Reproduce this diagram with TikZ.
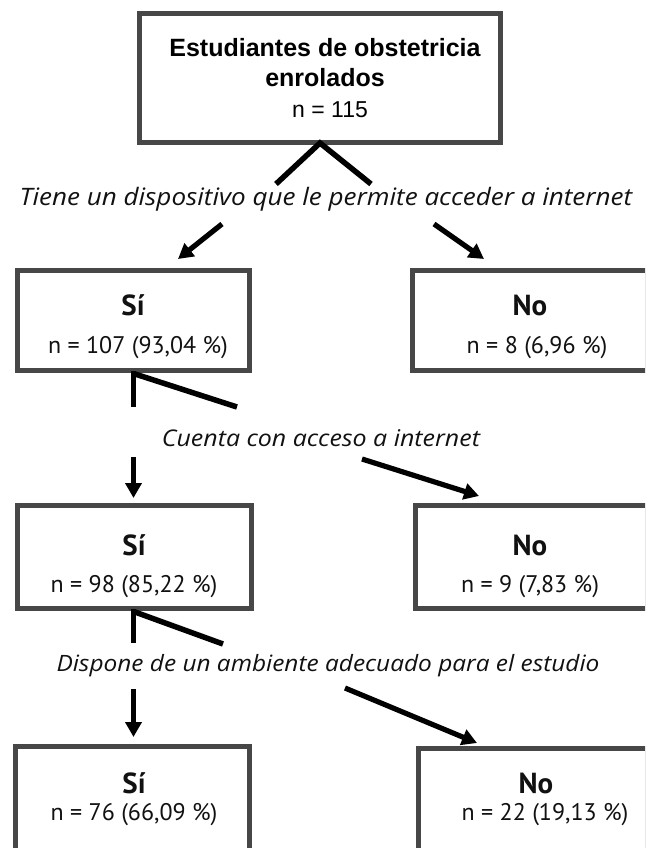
\documentclass[tikz,border=0pt]{standalone}
\usepackage{fontspec}
\setmainfont{PT Sans}
\newfontfamily\titlefont{Liberation Sans}
\newfontfamily\questfont{Open Sans}[FakeStretch=1.085]
\usetikzlibrary{arrows.meta}
\definecolor{boxgray}{HTML}{474747}
\definecolor{ink}{HTML}{111111}
\tikzset{
  box/.style={draw=boxgray, line width=5pt, inner sep=0pt, fill=white},
  lineto/.style={draw=black, line width=5.5pt},
  arr/.style={draw=black, line width=5.2pt, -{Triangle[length=15pt,width=16pt]}},
  yes/.style={font=\fontsize{29}{29}\selectfont\bfseries, text=ink, inner sep=0pt},
  cnt/.style={font=\fontsize{24}{24}\selectfont, text=ink, inner sep=0pt},
  quest/.style={font=\questfont\fontsize{#1}{#1}\selectfont\itshape, text=ink, inner sep=0pt},
  quest/.default=24,
  ttl/.style={font=\titlefont\fontsize{25}{25}\selectfont\bfseries, text=black, inner sep=0pt},
}
\begin{document}
\begin{tikzpicture}[x=1pt,y=-1pt]
\useasboundingbox (0,0) rectangle (645,848);
\clip (0,0) rectangle (645,848);
% top box
\node[box, minimum width=361pt, minimum height=129pt] (top) at (320,78) {};
\node[ttl] (t1) at (325,48) {Estudiantes de obstetricia};
\node[ttl] (t2) at (325,78) {enrolados};
\node[font=\titlefont\fontsize{23}{23}\selectfont, inner sep=0pt] (t3) at (330,110) {n = 115};
% question 1
\coordinate (v1a) at (320,143);
\coordinate (v1l) at (276,184);
\coordinate (v1r) at (371,184);
\draw[lineto] (v1l) -- (v1a) -- (v1r);
\node[quest] (q1) at (326,199) {Tiene un dispositivo que le permite acceder a internet};
\coordinate (a1l) at (222,224);
\coordinate (a1r) at (434,224);
% row 1
\node[box, minimum width=232pt, minimum height=100pt] (s1) at (133.5,320.5) {};
\node[box, minimum width=235pt, minimum height=100pt] (n1) at (530,320.5) {};
\node[yes] (s1a) at (133,305) {Sí};
\node[cnt] (s1b) at (138,348) {n = 107 (93,04 \%)};
\node[yes] (n1a) at (530,305) {No};
\node[cnt] (n1b) at (537,348) {n = 8 (6,96 \%)};
\coordinate (e1l) at (178,259);
\coordinate (e1r) at (484,259);
\draw[arr] (a1l) -- (e1l);
\draw[arr] (a1r) -- (e1r);
% question 2
\coordinate (b2a) at (133.5,371);
\coordinate (b2b) at (133.5,407);
\coordinate (b2c) at (135,374);
\coordinate (b2d) at (237,407);
\draw[lineto] (b2a) -- (b2b);
\draw[lineto] (b2c) -- (b2d);
\node[quest=23] (q2) at (321,438) {Cuenta con acceso a internet};
\coordinate (a2l) at (133.5,457);
\coordinate (a2r) at (362,459);
% row 2
\node[box, minimum width=234pt, minimum height=103pt] (s2) at (134.5,557) {};
\node[box, minimum width=232pt, minimum height=103pt] (n2) at (531.5,557) {};
\node[yes] (s2a) at (134,545) {Sí};
\node[cnt] (s2b) at (134,587) {n = 98 (85,22 \%)};
\node[yes] (n2a) at (530,545) {No};
\node[cnt] (n2b) at (530,587) {n = 9 (7,83 \%)};
\coordinate (e2l) at (133.5,498);
\coordinate (e2r) at (479,496);
\draw[arr] (a2l) -- (e2l);
\draw[arr] (a2r) -- (e2r);
% question 3
\coordinate (b3a) at (133.5,609);
\coordinate (b3b) at (133.5,643);
\coordinate (b3c) at (135,612);
\coordinate (b3d) at (223,644);
\draw[lineto] (b3a) -- (b3b);
\draw[lineto] (b3c) -- (b3d);
\node[quest=22.5] (q3) at (328,666) {Dispone de un ambiente adecuado para el estudio};
\coordinate (a3l) at (133.5,689);
\coordinate (a3r) at (345,688);
% row 3
\node[box, minimum width=234pt, minimum height=121pt] (s3) at (132.5,807) {};
\node[box, minimum width=229pt, minimum height=119pt] (n3) at (533,808) {};
\node[yes] (s3a) at (134,783) {Sí};
\node[cnt] (s3b) at (134,815) {n = 76 (66,09 \%)};
\node[yes] (n3a) at (536,783) {No};
\node[cnt] (n3b) at (545,815) {n = 22 (19,13 \%)};
\coordinate (e3l) at (133.5,737);
\coordinate (e3r) at (477,743);
\draw[arr] (a3l) -- (e3l);
\draw[arr] (a3r) -- (e3r);
\end{tikzpicture}
\end{document}
